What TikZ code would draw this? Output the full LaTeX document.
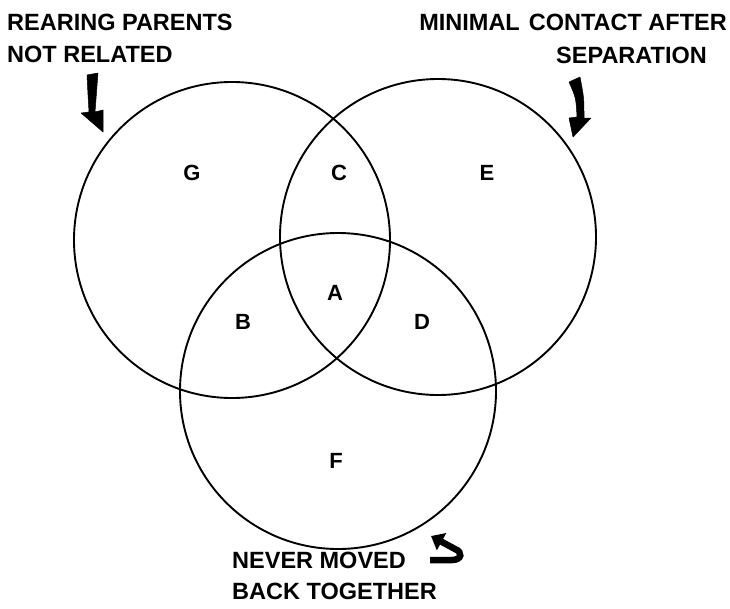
\documentclass[tikz,border=0pt]{standalone}
\usepackage{fontspec}
\setmainfont{Liberation Sans}
\usetikzlibrary{arrows.meta}
\tikzset{
  ring/.style={draw, circle, line width=1.9pt, minimum size=316pt, inner sep=0pt},
  caption/.style={font=\fontsize{23.5}{26}\selectfont\bfseries, inner sep=0pt},
  region/.style={font=\fontsize{22}{24}\selectfont\bfseries, inner sep=0pt},
  bigarrow/.style={fill=black, draw=black, line width=0.5pt, line join=round}
}
\begin{document}
\begin{tikzpicture}[x=1pt,y=-1pt]
\useasboundingbox (0,0) rectangle (730,608);
% circles
\node[ring] (L) at (232,240) {};
\node[ring] (R) at (438,237) {};
\node[ring] (Bc) at (338,391) {};
% region labels
\node[region] (g) at (192,173) {G};
\node[region] (c) at (339,173) {C};
\node[region] (e) at (487,173) {E};
\node[region] (a) at (335,293) {A};
\node[region] (b) at (243,322) {B};
\node[region] (d) at (422,322) {D};
\node[region] (f) at (336,461) {F};
% captions
\node[caption, anchor=west] (t1) at (7,22.5) {REARING PARENTS};
\node[caption, anchor=west] (t2) at (7,54) {NOT RELATED};
\node[caption, anchor=east] (t3) at (727,22) {MINIMAL\hspace{9pt}CONTACT AFTER};
\node[caption, anchor=east] (t4) at (707,55) {SEPARATION};
\node[caption, anchor=west] (t5) at (232,560) {NEVER MOVED};
\node[caption, anchor=west] (t6) at (232,591) {BACK TOGETHER};
% arrows
\filldraw[bigarrow] (87,75) -- (98,73) .. controls (97,92) .. (95,112)
  -- (103,110) -- (103,132) -- (81,113) -- (89,112) .. controls (88,95) .. (87,75) -- cycle;
\filldraw[bigarrow] (569,82) -- (580,77) .. controls (584,98) .. (584,118)
  -- (591,118) -- (573,137) -- (569,118) -- (577,117) .. controls (576,98) .. (569,82) -- cycle;
\coordinate (h0) at (430,560);
\coordinate (h1) at (452,560);
\coordinate (h2) at (455,549);
\coordinate (h3) at (431,536);
\draw[line width=6.5pt, -{Triangle[length=12pt,width=19pt]}]
  (h0) -- (h1) .. controls (462,560) and (463,552) .. (h2) -- (h3);
\end{tikzpicture}
\end{document}
